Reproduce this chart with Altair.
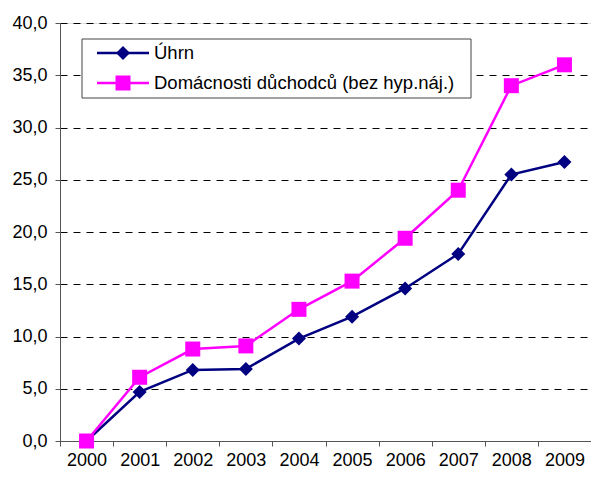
import altair as alt
import pandas as pd

years = ["2000", "2001", "2002", "2003", "2004", "2005", "2006", "2007", "2008", "2009"]
uhrn = [0.0, 4.7, 6.8, 6.9, 9.8, 11.9, 14.6, 17.9, 25.5, 26.7]
domacnosti = [0.0, 6.1, 8.8, 9.1, 12.6, 15.3, 19.4, 24.0, 34.0, 36.0]
series_names = ["Úhrn", "Domácnosti důchodců (bez hyp.náj.)"]
series_colors = ["#000080", "#FF00FF"]
series_shapes = ["diamond", "square"]
y_ticks = [0, 5, 10, 15, 20, 25, 30, 35, 40]

rows = []
for name, vals in zip(series_names, [uhrn, domacnosti]):
    for yr, v in zip(years, vals):
        rows.append({"year": yr, "value": v, "series": name})
df = pd.DataFrame(rows)

FONT = "Liberation Sans"
FS = 18

x_enc = alt.X(
    "year:O",
    bandPosition=0.5,
    scale=alt.Scale(type="band", paddingInner=0, paddingOuter=0, domain=years),
    axis=alt.Axis(
        title=None, tickBand="extent", grid=False, labelAngle=0,
        domainColor="#555555", tickColor="#555555", tickSize=5,
        labelPadding=5, labelFontSize=FS, labelFont=FONT, labelColor="black",
    ),
)
y_enc = alt.Y(
    "value:Q",
    scale=alt.Scale(domain=[0, 40], nice=False, zero=True),
    axis=alt.Axis(
        title=None, values=y_ticks, grid=True, gridDash=[7, 6], gridColor="black",
        gridWidth=1, domainColor="#555555", tickColor="#555555", tickSize=5,
        labelPadding=8, labelFontSize=FS, labelFont=FONT, labelColor="black",
        labelExpr="replace(format(datum.value, '.1f'), '.', ',')",
    ),
)
color_enc = alt.Color("series:N", scale=alt.Scale(domain=series_names, range=series_colors), legend=None)

lines = alt.Chart(df).mark_line(strokeWidth=2.5).encode(x=x_enc, y=y_enc, color=color_enc, detail="series:N")
pts_u = alt.Chart(df[df.series == series_names[0]]).mark_point(filled=True, opacity=1, size=196, shape="diamond").encode(
    x=x_enc, y=y_enc, color=color_enc)
pts_d = alt.Chart(df[df.series == series_names[1]]).mark_point(filled=True, opacity=1, size=225, shape="square").encode(
    x=x_enc, y=y_enc, color=color_enc)

# Legend box
leg_df = pd.DataFrame({"label": ["box"]})
box = alt.Chart(leg_df).mark_rect(fill="white", stroke="#444444", strokeWidth=1).encode(
    x=alt.value(22), x2=alt.value(411), y=alt.value(16), y2=alt.value(75))

legend_layers = [box]
for i, (name, col, shp, sz) in enumerate(zip(series_names, series_colors, series_shapes, [196, 225])):
    yy = 30 + 30 * i
    d = pd.DataFrame({"label": [name]})
    legend_layers.append(alt.Chart(d).mark_rule(color=col, strokeWidth=2.5).encode(
        x=alt.value(37), x2=alt.value(89), y=alt.value(yy)))
    legend_layers.append(alt.Chart(d).mark_point(filled=True, opacity=1, shape=shp, size=sz, color=col).encode(
        x=alt.value(63), y=alt.value(yy)))
    legend_layers.append(alt.Chart(d).mark_text(align="left", baseline="middle", font=FONT, fontSize=18.5, color="black").encode(
        x=alt.value(94), y=alt.value(yy), text="label:N"))

chart = alt.layer(lines, pts_u, pts_d, *legend_layers).properties(
    width=531, height=418,
    autosize=alt.AutoSizeParams(type="none"),
    padding={"left": 52, "top": 15, "right": 0, "bottom": 28},
).configure_view(stroke=None).configure(background="white")

chart.save("out.html", embed_options={"renderer": "svg", "actions": False})
